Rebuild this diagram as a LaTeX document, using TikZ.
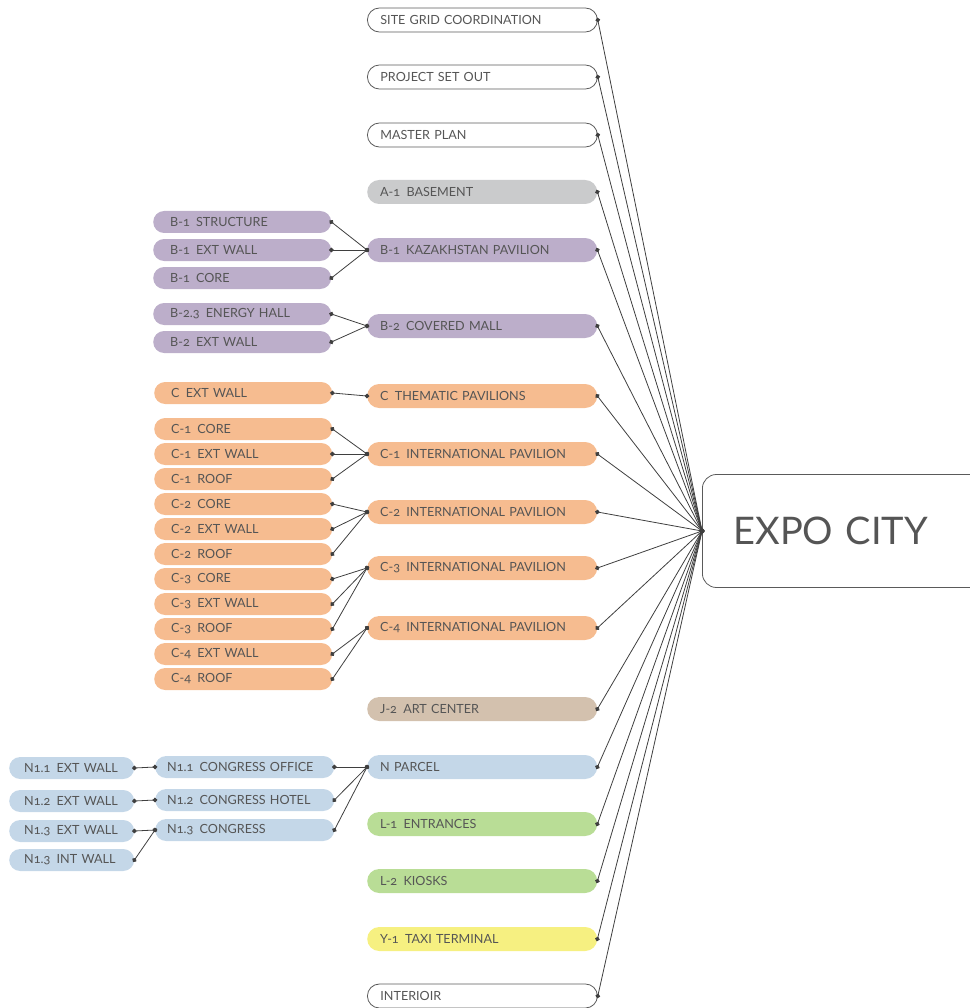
\documentclass[tikz,border=0pt]{standalone}
\usepackage{fontspec}
\setmainfont{Lato}[Numbers=OldStyle]
\usetikzlibrary{arrows.meta}
\definecolor{ink}{HTML}{3F3F3F}
\definecolor{txt}{HTML}{555555}
\definecolor{edge}{HTML}{5A5A5A}
\definecolor{agray}{HTML}{CACBCC}
\definecolor{bpurple}{HTML}{BCAECA}
\definecolor{corange}{HTML}{F6BC90}
\definecolor{jtan}{HTML}{D3C1AE}
\definecolor{nblue}{HTML}{C4D7E8}
\definecolor{lgreen}{HTML}{B9DD96}
\definecolor{yyellow}{HTML}{F6F081}

\begin{document}
\begin{tikzpicture}[
    x=1pt, y=-1pt,
    every node/.style={font=\fontsize{12.6}{14}\selectfont, text=txt},
    pill/.style={rectangle, anchor=west, align=left, inner ysep=0pt},
    mid/.style={pill, rounded corners=12pt, minimum height=24pt, inner xsep=13pt, text width=204pt},
    sub/.style={pill, rounded corners=11pt, minimum height=22pt, inner xsep=17pt, text width=144pt},
    nsub/.style={pill, rounded corners=11pt, minimum height=22pt, inner xsep=12pt, text width=155pt},
    nleaf/.style={pill, rounded corners=11pt, minimum height=22pt, inner xsep=15pt, text width=95pt},
    open/.style={draw=edge, line width=0.8pt, fill=white},
    wire/.style={ink, line width=0.8pt, {Circle[length=4.6pt]}-{Circle[length=4.6pt]},
                 shorten <=-2.3pt, shorten >=-2.3pt},
    hubbox/.style={rectangle, anchor=west, rounded corners=14pt, draw=edge, line width=0.8pt,
                   minimum height=113pt, inner xsep=31pt, text width=230pt, align=left,
                   font=\fontsize{38}{42}\selectfont},
]
\useasboundingbox (0,0) rectangle (969,1008);

% ============================================================
% Main column
% ============================================================
\def\Xmid{367}
\node[mid,open]        (sitegrid) at (\Xmid,20)  {SITE GRID COORDINATION};
\node[mid,open]        (setout)   at (\Xmid,77)  {PROJECT SET OUT};
\node[mid,open]        (master)   at (\Xmid,135) {MASTER PLAN};
\node[mid,fill=agray]  (a1)       at (\Xmid,192) {A-1\enspace BASEMENT};
\node[mid,fill=bpurple] (b1)      at (\Xmid,250) {B-1\enspace KAZAKHSTAN PAVILION};
\node[mid,fill=bpurple] (b2)      at (\Xmid,326) {B-2\enspace COVERED MALL};
\node[mid,fill=corange] (cthem)   at (\Xmid,396) {C\enspace THEMATIC PAVILIONS};
\node[mid,fill=corange] (c1)      at (\Xmid,454) {C-1\enspace INTERNATIONAL PAVILION};
\node[mid,fill=corange] (c2)      at (\Xmid,512) {C-2\enspace INTERNATIONAL PAVILION};
\node[mid,fill=corange] (c3)      at (\Xmid,568) {C-3\enspace INTERNATIONAL PAVILION};
\node[mid,fill=corange] (c4)      at (\Xmid,628) {C-4\enspace INTERNATIONAL PAVILION};
\node[mid,fill=jtan]    (j2)      at (\Xmid,709) {J-2\enspace ART CENTER};
\node[mid,fill=nblue]   (npar)    at (\Xmid,767) {N PARCEL};
\node[mid,fill=lgreen]  (l1)      at (\Xmid,824) {L-1\enspace ENTRANCES};
\node[mid,fill=lgreen]  (l2)      at (\Xmid,881) {L-2\enspace KIOSKS};
\node[mid,fill=yyellow] (y1)      at (\Xmid,939) {Y-1\enspace TAXI TERMINAL};
\node[mid,open]        (inter)    at (\Xmid,996) {INTERIOIR};

% Hub
\node[hubbox] (expo) at (702,531) {EXPO CITY};

% ============================================================
% B / C sub packages
% ============================================================
\node[sub,fill=bpurple] (b1s) at (153,222) {B-1\enspace STRUCTURE};
\node[sub,fill=bpurple] (b1w) at (153,250) {B-1\enspace EXT WALL};
\node[sub,fill=bpurple] (b1c) at (153,278) {B-1\enspace CORE};
\node[sub,fill=bpurple] (b23) at (153,314) {B-2.3\enspace ENERGY HALL};
\node[sub,fill=bpurple] (b2w) at (153,342) {B-2\enspace EXT WALL};

\node[sub,fill=corange] (cw)  at (154,393) {C\enspace EXT WALL};
\node[sub,fill=corange] (c1c) at (154,429) {C-1\enspace CORE};
\node[sub,fill=corange] (c1w) at (154,454) {C-1\enspace EXT WALL};
\node[sub,fill=corange] (c1r) at (154,479) {C-1\enspace ROOF};
\node[sub,fill=corange] (c2c) at (154,504) {C-2\enspace CORE};
\node[sub,fill=corange] (c2w) at (154,529) {C-2\enspace EXT WALL};
\node[sub,fill=corange] (c2r) at (154,554) {C-2\enspace ROOF};
\node[sub,fill=corange] (c3c) at (154,579) {C-3\enspace CORE};
\node[sub,fill=corange] (c3w) at (154,604) {C-3\enspace EXT WALL};
\node[sub,fill=corange] (c3r) at (154,629) {C-3\enspace ROOF};
\node[sub,fill=corange] (c4w) at (154,654) {C-4\enspace EXT WALL};
\node[sub,fill=corange] (c4r) at (154,679) {C-4\enspace ROOF};

% ============================================================
% N parcel
% ============================================================
\node[nsub,fill=nblue] (n11) at (155,767) {N1.1\enspace CONGRESS OFFICE};
\node[nsub,fill=nblue] (n12) at (155,800) {N1.2\enspace CONGRESS HOTEL};
\node[nsub,fill=nblue] (n13) at (155,830) {N1.3\enspace CONGRESS};

\node[nleaf,fill=nblue] (n11w) at (9,768) {N1.1\enspace EXT WALL};
\node[nleaf,fill=nblue] (n12w) at (9,801) {N1.2\enspace EXT WALL};
\node[nleaf,fill=nblue] (n13w) at (9,831) {N1.3\enspace EXT WALL};
\node[nleaf,fill=nblue] (n13i) at (9,860) {N1.3\enspace INT WALL};

% ============================================================
% Links
% ============================================================
\foreach \n in {sitegrid,setout,master,a1,b1,b2,cthem,c1,c2,c3,c4,j2,npar,l1,l2,y1,inter}
  \draw[wire] (\n.east) -- (expo.west);

\foreach \a/\b in {b1s/b1,b1w/b1,b1c/b1,b23/b2,b2w/b2,cw/cthem,
                   c1c/c1,c1w/c1,c1r/c1,c2c/c2,c2w/c2,c2r/c2,
                   c3c/c3,c3w/c3,c3r/c3,c4w/c4,c4r/c4,
                   n11/npar,n12/npar,n13/npar,
                   n11w/n11,n12w/n12,n13w/n13,n13i/n13}
  \draw[wire] (\a.east) -- (\b.west);

\end{tikzpicture}
\end{document}
